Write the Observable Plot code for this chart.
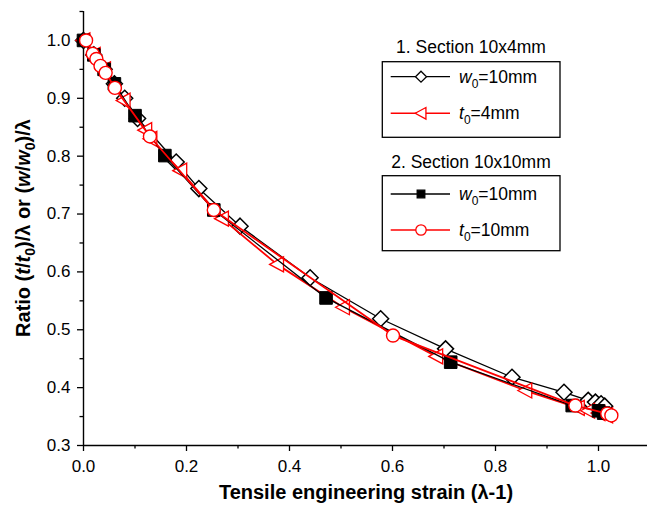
<!DOCTYPE html>
<html>
<head>
<meta charset="utf-8">
<script src="https://cdn.jsdelivr.net/npm/d3@7"></script>
<script src="https://cdn.jsdelivr.net/npm/@observablehq/plot@0.6"></script>
<style>
  html, body { margin: 0; padding: 0; background: #fff; }
  #wrap { position: relative; width: 647px; height: 509px; font-family: "Liberation Sans", Arial, sans-serif; }
  #wrap svg { position: absolute; left: 0; top: 0; overflow: visible; }
</style>
</head>
<body>
<div id="wrap"></div>
<script>
// ---- Data ----
// Section 10x4mm, width ratio (w/w0)/λ, w0 = 10 mm  (open diamonds, black)
const sec1W_x = [0.0, 0.02, 0.04, 0.06, 0.08, 0.105, 0.18, 0.224, 0.304, 0.44, 0.577, 0.703, 0.832, 0.933, 0.98, 0.994, 1.005, 1.012];
const sec1W_y = [1.0, 0.975, 0.95, 0.925, 0.9, 0.865, 0.79, 0.744, 0.679, 0.59, 0.519, 0.467, 0.418, 0.392, 0.378, 0.375, 0.372, 0.368];
// Section 10x4mm, thickness ratio (t/t0)/λ, t0 = 4 mm  (open left triangles, red)
const sec1T_x = [0.0, 0.02, 0.04, 0.078, 0.12, 0.13, 0.188, 0.269, 0.376, 0.504, 0.685, 0.858, 0.96, 0.98, 1.0, 1.015];
const sec1T_y = [1.0, 0.975, 0.95, 0.896, 0.845, 0.83, 0.775, 0.692, 0.613, 0.539, 0.454, 0.395, 0.365, 0.36, 0.356, 0.352];
// Section 10x10mm, width ratio, w0 = 10 mm  (filled squares, black)
const sec2W_x = [0.0, 0.02, 0.04, 0.06, 0.1, 0.158, 0.253, 0.471, 0.713, 0.949, 1.0, 1.01];
const sec2W_y = [1.0, 0.975, 0.95, 0.925, 0.87, 0.801, 0.707, 0.555, 0.444, 0.369, 0.36, 0.356];
// Section 10x10mm, thickness ratio, t0 = 10 mm  (open circles, red)
const sec2T_x = [0.005, 0.018, 0.025, 0.033, 0.043, 0.061, 0.129, 0.253, 0.601, 0.955, 1.017, 1.025];
const sec2T_y = [1.0, 0.977, 0.968, 0.956, 0.944, 0.918, 0.834, 0.707, 0.49, 0.369, 0.355, 0.352];

// Axis ticks
const xMajor = [0.0, 0.2, 0.4, 0.6, 0.8, 1.0];
const xMinor = [0.1, 0.3, 0.5, 0.7, 0.9, 1.1];
const yMajor = [0.3, 0.4, 0.5, 0.6, 0.7, 0.8, 0.9, 1.0];
const yMinor = [0.35, 0.45, 0.55, 0.65, 0.75, 0.85, 0.95, 1.05];

// Legend text
const legendGroups = ["1. Section 10x4mm", "2. Section 10x10mm"];

// ---- Symbols ----
function rOf(size) { return Math.sqrt(size / Math.PI); }
const diamondSym = { draw(c, size) { const r = rOf(size); c.moveTo(0, -r); c.lineTo(r, 0); c.lineTo(0, r); c.lineTo(-r, 0); c.closePath(); } };
const squareSym = { draw(c, size) { const r = rOf(size); c.moveTo(-r, -r); c.lineTo(r, -r); c.lineTo(r, r); c.lineTo(-r, r); c.closePath(); } };
const triLeftSym = { draw(c, size) { const r = rOf(size); c.moveTo(-r, 0); c.lineTo(r * 0.85, -r); c.lineTo(r * 0.85, r); c.closePath(); } };
const circleSym = { draw(c, size) { const r = rOf(size); c.moveTo(r, 0); c.arc(0, 0, r, 0, 2 * Math.PI); c.closePath(); } };

const toRows = (xs, ys) => xs.map((x, i) => ({ x, y: ys[i] }));
const A = toRows(sec1W_x, sec1W_y);
const B = toRows(sec1T_x, sec1T_y);
const C = toRows(sec2W_x, sec2W_y);
const D = toRows(sec2T_x, sec2T_y);

const RED = "#ff0000", BLK = "#000000";
const fmt = d3.format(".1f");

const chart = Plot.plot({
  width: 647,
  height: 509,
  marginLeft: 83, marginRight: 0, marginTop: 11, marginBottom: 64,
  x: { domain: [0, 1.1], range: [83, 649.5] },
  y: { domain: [0.3, 1.05], range: [445, 11] },
  style: { fontFamily: "'Liberation Sans', Arial, sans-serif", fontSize: "17px", color: "#000", background: "transparent", overflow: "visible" },
  marks: [
    Plot.axisX(xMajor, { anchor: "bottom", tickSize: 6, tickPadding: 8, tickFormat: fmt, label: null, strokeWidth: 1.3, fontSize: 17 }),
    Plot.axisX(xMinor, { anchor: "bottom", tickSize: 3.5, tickFormat: () => "", label: null, strokeWidth: 1.3 }),
    Plot.axisY(yMajor, { anchor: "left", tickSize: 6, tickPadding: 7, tickFormat: fmt, label: null, strokeWidth: 1.3, fontSize: 17 }),
    Plot.axisY(yMinor, { anchor: "left", tickSize: 3.5, tickFormat: () => "", label: null, strokeWidth: 1.3 }),
    Plot.ruleX([0], { y1: 0.3, y2: 1.05, stroke: BLK, strokeWidth: 1.4 }),
    Plot.ruleY([0.3], { x1: 0, x2: 1.1, stroke: BLK, strokeWidth: 1.4 }),

    Plot.line(A, { x: "x", y: "y", stroke: BLK, strokeWidth: 1.3 }),
    Plot.dot(A, { x: "x", y: "y", symbol: diamondSym, r: 8, stroke: BLK, fill: "#fff", strokeWidth: 1.5 }),

    Plot.line(B, { x: "x", y: "y", stroke: RED, strokeWidth: 1.8 }),
    Plot.dot(B, { x: "x", y: "y", symbol: triLeftSym, r: 7.5, stroke: RED, fill: "#fff", strokeWidth: 1.3 }),

    Plot.line(C, { x: "x", y: "y", stroke: BLK, strokeWidth: 1.3 }),
    Plot.dot(C, { x: "x", y: "y", symbol: squareSym, r: 6.3, stroke: BLK, fill: BLK, strokeWidth: 1 }),

    Plot.line(D, { x: "x", y: "y", stroke: RED, strokeWidth: 1.8 }),
    Plot.dot(D, { x: "x", y: "y", symbol: circleSym, r: 6.5, stroke: RED, fill: "#fff", strokeWidth: 1.4 })
  ]
});
document.getElementById("wrap").appendChild(chart);

// ---- Axis titles and legend (overlay SVG) ----
const ns = "http://www.w3.org/2000/svg";
const over = d3.select("#wrap").append("svg")
  .attr("xmlns", ns).attr("width", 647).attr("height", 509)
  .style("font-family", "'Liberation Sans', Arial, sans-serif");

// X title
over.append("text").attr("x", 366).attr("y", 499).attr("text-anchor", "middle")
  .attr("font-size", 20).attr("font-weight", "bold").text("Tensile engineering strain (λ-1)");

// Y title with italic letters and subscripts
const yt = over.append("text").attr("transform", "translate(30,228) rotate(-90)")
  .attr("text-anchor", "middle").attr("font-size", 20).attr("font-weight", "bold");
const yParts = [
  ["Ratio (", ""], ["t", "i"], ["/", ""], ["t", "i"], ["0", "s"], [")/λ or (", ""],
  ["w", "i"], ["/", ""], ["w", "i"], ["0", "s"], [")/λ", ""]
];
let shifted = false;
yParts.forEach(([t, k]) => {
  const ts = yt.append("tspan").text(t);
  if (k === "i") ts.attr("font-style", "italic");
  if (k === "s") { ts.attr("font-size", 14).attr("dy", 5); shifted = true; }
  else if (shifted) { ts.attr("dy", -5); shifted = false; }
});

// Legend
function symPath(sym, r) { const p = d3.path(); sym.draw(p, r * r * Math.PI); return p.toString(); }
const legendItems = [
  { group: 0, row: 76.7, sym: diamondSym, r: 5.5, color: BLK, fill: "#fff", lab: ["w", "0", "=10mm"] },
  { group: 0, row: 113.3, sym: triLeftSym, r: 5.8, color: RED, fill: "#fff", lab: ["t", "0", "=4mm"] },
  { group: 1, row: 194, sym: squareSym, r: 3.8, color: BLK, fill: BLK, lab: ["w", "0", "=10mm"] },
  { group: 1, row: 230, sym: circleSym, r: 5.2, color: RED, fill: "#fff", lab: ["t", "0", "=10mm"] }
];
const groupTitleY = [52.5, 167.5];
const boxY = [[61.7, 137.3], [175.7, 250.7]];
legendGroups.forEach((g, i) => {
  over.append("text").attr("x", 471).attr("y", groupTitleY[i]).attr("text-anchor", "middle")
    .attr("font-size", 17.5).text(g);
  over.append("rect").attr("x", 382.3).attr("y", boxY[i][0]).attr("width", 560 - 382.3)
    .attr("height", boxY[i][1] - boxY[i][0]).attr("fill", "none").attr("stroke", BLK).attr("stroke-width", 1.3);
});
legendItems.forEach(it => {
  over.append("line").attr("x1", 390.7).attr("x2", 450).attr("y1", it.row).attr("y2", it.row)
    .attr("stroke", it.color).attr("stroke-width", it.color === RED ? 1.6 : 1.3);
  over.append("path").attr("d", symPath(it.sym, it.r)).attr("transform", `translate(421,${it.row})`)
    .attr("fill", it.fill).attr("stroke", it.color).attr("stroke-width", 1.3);
  const t = over.append("text").attr("x", 459).attr("y", it.row + 6).attr("font-size", 17.5);
  t.append("tspan").attr("font-style", "italic").text(it.lab[0]);
  t.append("tspan").attr("font-size", 12).attr("dy", 5).text(it.lab[1]);
  t.append("tspan").attr("dy", -5).text(it.lab[2]);
});
</script>
</body>
</html>
